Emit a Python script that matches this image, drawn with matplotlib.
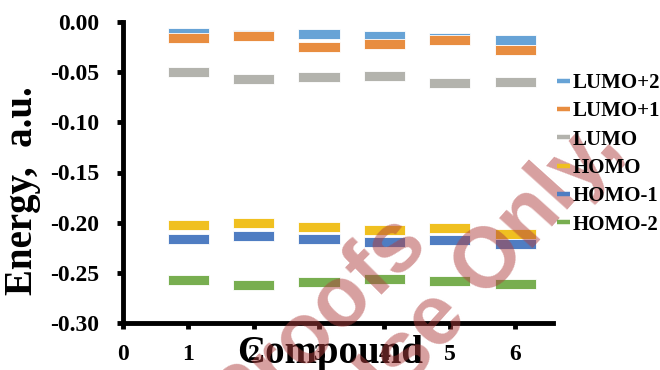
import matplotlib
matplotlib.use("Agg")
from matplotlib import pyplot as plt
from matplotlib.lines import Line2D
import numpy as np

compounds = [1, 2, 3, 4, 5, 6]
series_names = ["LUMO+2", "LUMO+1", "LUMO", "HOMO", "HOMO-1", "HOMO-2"]
lumo2 = [-0.011, -0.013, -0.012, -0.014, -0.016, -0.018]
lumo1 = [-0.016, -0.014, -0.025, -0.022, -0.018, -0.028]
lumo = [-0.050, -0.057, -0.055, -0.054, -0.061, -0.060]
homo = [-0.202, -0.200, -0.204, -0.207, -0.205, -0.211]
homo1 = [-0.216, -0.213, -0.216, -0.219, -0.217, -0.221]
homo2 = [-0.257, -0.262, -0.259, -0.256, -0.258, -0.261]
xticks = [0, 1, 2, 3, 4, 5, 6]
yticks = [0.00, -0.05, -0.10, -0.15, -0.20, -0.25, -0.30]

colors = ["#67a3d6", "#e88d40", "#b3b3ad", "#f0c020", "#4f7dc2", "#78ae50"]
levels = [lumo2, lumo1, lumo, homo, homo1, homo2]

plt.rcParams['font.family'] = ['Liberation Serif', 'DejaVu Serif']
plt.rcParams['font.weight'] = 'bold'

fig = plt.figure(figsize=(6.6, 3.7), dpi=100)
ax = fig.add_axes([123/660, 1 - 323/370, 430/660, 301/370])

thick = 0.01
for vals, c in zip(levels, colors):
    vals = np.array(vals)
    ax.bar(compounds, thick, bottom=vals - thick/2, width=0.63, color=c,
           edgecolor='white', linewidth=0.6, zorder=2)

ax.set_xlim(0, 6.58)
ax.set_ylim(-0.30, 0)
ax.set_xticks(xticks)
ax.set_yticks(yticks)
ax.set_yticklabels([f"{v:.2f}" for v in yticks])
for s in ["top", "right"]:
    ax.spines[s].set_visible(False)
for s in ["left", "bottom"]:
    ax.spines[s].set_linewidth(3.5)
ax.tick_params(axis='both', width=3.5, length=4, labelsize=17)
ax.tick_params(axis='y', pad=13)
ax.tick_params(axis='x', pad=11)

ax.set_xlabel("Compound", fontsize=28, fontweight='bold')
ax.xaxis.set_label_coords(0.481, -0.04)
ax.set_ylabel("Energy,  a.u.", fontsize=28, fontweight='bold')
ax.yaxis.set_label_coords(-0.19, 0.44)

handles = [Line2D([0], [0], color=c, lw=3.2, solid_capstyle='butt') for c in colors]
fig.legend(handles, series_names, loc='upper left', frameon=False,
           bbox_to_anchor=(557/660, 1 - 73/370), borderpad=0, borderaxespad=0,
           handlelength=0.6, handletextpad=0.15, labelspacing=0.4,
           prop={'family': 'Liberation Serif', 'weight': 'bold', 'size': 15})

# watermark
wm = dict(color='#b04040', alpha=0.5, fontsize=61, fontweight='bold',
          family='Liberation Sans', ha='center', va='center',
          rotation_mode='anchor')
fig.text(318/660, 1 - 322/370, "Proofs", rotation=45, **wm)
fig.text(478/660, 1 - 276/370, "Use Only,", rotation=48, **wm)

fig.savefig("out.png", dpi=100)
